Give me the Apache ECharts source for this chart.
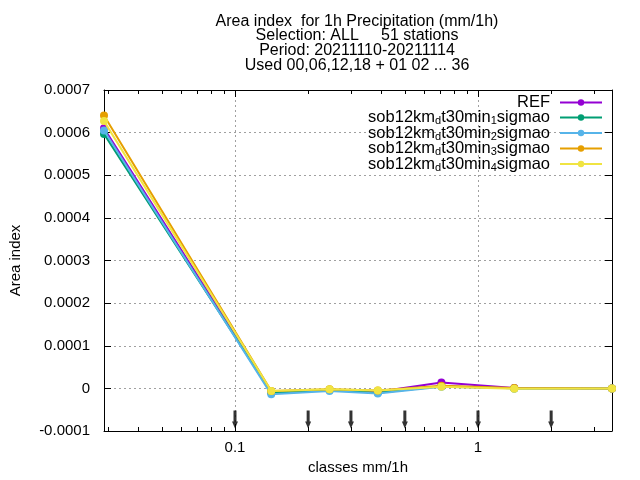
<!DOCTYPE html>
<html>
<head>
<meta charset="utf-8">
<script src="https://cdn.jsdelivr.net/npm/echarts@6/dist/echarts.min.js"></script>
<style>
  html, body { margin: 0; padding: 0; background: #fff; }
  #chart { width: 640px; height: 480px; }
</style>
</head>
<body>
<div id="chart"></div>
<script>
// class centres (mm/1h), log x axis
const classCentres = [0.0289, 0.141, 0.245, 0.387, 0.707, 1.41, 3.56];

// area index per experiment
const refValues    = [6.10e-4, -8e-6, -3e-6, -8e-6, 1.4e-5, 1e-6, 0];
const sigmao1      = [5.97e-4, -1.0e-5, -4e-6, -1.0e-5, 5e-6, 0, 0];
const sigmao2      = [6.05e-4, -1.4e-5, -6e-6, -1.2e-5, 4e-6, 0, 0];
const sigmao3      = [6.40e-4, -6e-6, -2e-6, -5e-6, 6e-6, 1e-6, 0];
const sigmao4      = [6.27e-4, -6e-6, -2e-6, -5e-6, 4e-6, -1e-6, 0];

// class thresholds shown as arrows under the curves
const thresholds = [0.1, 0.2, 0.3, 0.5, 1, 2];
const arrowLevel = -7.3e-5;

const seriesNames = ['REF', 'sob12km_d_t30min_1_sigmao', 'sob12km_d_t30min_2_sigmao',
  'sob12km_d_t30min_3_sigmao', 'sob12km_d_t30min_4_sigmao'];
const seriesValues = [refValues, sigmao1, sigmao2, sigmao3, sigmao4];
const colors = ['#9400d3', '#009e73', '#56b4e9', '#e69f00', '#f0e442'];

const xMajor = [0.1, 1];
const xMinor = [0.03, 0.04, 0.05, 0.06, 0.07, 0.08, 0.09,
  0.2, 0.3, 0.4, 0.5, 0.6, 0.7, 0.8, 0.9, 2, 3];

const font = 'Liberation Sans, Arial, sans-serif';

const legendLabel = (name) => {
  if (name === 'REF') return 'REF';
  const p = name.split('_');
  return p[0] + '{sub|' + p[1] + '}' + p[2] + '{sub|' + p[3] + '}' + p[4];
};

const xBase = {
  type: 'log',
  logBase: 10,
  min: classCentres[0],
  max: classCentres[classCentres.length - 1],
  axisLine: { show: false, onZero: false },
  splitLine: { show: false },
  axisLabel: { show: false },
  axisTick: { show: false }
};

const chart = echarts.init(document.getElementById('chart'));

chart.setOption({
  animation: false,
  textStyle: { fontFamily: font, color: '#000' },
  title: {
    text: 'Area index  for 1h Precipitation (mm/1h)\nSelection: ALL     51 stations\nPeriod: 20211110-20211114\nUsed 00,06,12,18 + 01 02 ... 36',
    left: 352,
    textAlign: 'center',
    top: 9,
    textStyle: { fontFamily: font, fontSize: 16, fontWeight: 'normal', color: '#000', lineHeight: 14.7 }
  },
  legend: {
    right: 32,
    top: 89,
    orient: 'vertical',
    align: 'right',
    itemWidth: 42,
    itemHeight: 8,
    itemGap: -2.5,
    data: seriesNames,
    formatter: legendLabel,
    textStyle: {
      fontFamily: font, fontSize: 16.5, color: '#000', lineHeight: 15, padding: [0, 5, 0, 0],
      rich: { sub: { fontFamily: font, fontSize: 11, padding: [7, 0, 0, 0], lineHeight: 9 } }
    }
  },
  grid: { left: 100, right: 28, top: 90, bottom: 49 },
  xAxis: [
    Object.assign({}, xBase, {
      position: 'bottom',
      name: 'classes mm/1h',
      nameLocation: 'middle',
      nameGap: 28,
      nameTextStyle: { fontFamily: font, fontSize: 15, color: '#000' },
      axisLine: { show: true, onZero: false, lineStyle: { color: '#000', width: 1 } },
      axisTick: { show: true, inside: true, length: 7, customValues: xMajor, lineStyle: { color: '#000' } },
      axisLabel: { show: true, customValues: xMajor, fontSize: 15, color: '#000', fontFamily: font, margin: 9,
        formatter: (v) => String(v) },
      splitLine: { show: true, lineStyle: { color: '#a0a0a0', type: [2, 3], width: 1 } }
    }),
    Object.assign({}, xBase, {
      position: 'bottom',
      axisTick: { show: true, inside: true, length: 4, customValues: xMinor, lineStyle: { color: '#000' } }
    }),
    Object.assign({}, xBase, {
      position: 'top',
      axisLine: { show: true, onZero: false, lineStyle: { color: '#000', width: 1 } },
      axisTick: { show: true, inside: true, length: 7, customValues: xMajor, lineStyle: { color: '#000' } }
    }),
    Object.assign({}, xBase, {
      position: 'top',
      axisTick: { show: true, inside: true, length: 4, customValues: xMinor, lineStyle: { color: '#000' } }
    })
  ],
  yAxis: [
    {
      type: 'value',
      min: -0.0001,
      max: 0.0007,
      interval: 0.0001,
      position: 'left',
      name: 'Area index',
      nameLocation: 'middle',
      nameGap: 81,
      nameTextStyle: { fontFamily: font, fontSize: 15, color: '#000' },
      axisLine: { show: true, onZero: false, lineStyle: { color: '#000', width: 1 } },
      axisTick: { show: true, inside: true, length: 7, lineStyle: { color: '#000' } },
      axisLabel: { fontSize: 15, color: '#000', fontFamily: font, margin: 14,
        formatter: (v) => (Math.abs(v) < 1e-12 ? '0' : v.toFixed(4)) },
      splitLine: { show: true, lineStyle: { color: '#a0a0a0', type: [2, 3], width: 1 } }
    },
    {
      type: 'value',
      min: -0.0001,
      max: 0.0007,
      interval: 0.0001,
      position: 'right',
      axisLine: { show: true, onZero: false, lineStyle: { color: '#000', width: 1 } },
      axisTick: { show: true, inside: true, length: 7, lineStyle: { color: '#000' } },
      axisLabel: { show: false },
      splitLine: { show: false }
    }
  ],
  series: seriesNames.map((name, i) => ({
    name: name,
    type: 'line',
    xAxisIndex: 0,
    yAxisIndex: 0,
    data: classCentres.map((x, j) => [x, seriesValues[i][j]]),
    color: colors[i],
    symbol: 'circle',
    symbolSize: 8,
    showAllSymbol: true,
    lineStyle: { width: 2, color: colors[i] },
    itemStyle: { color: colors[i] },
    z: 3 + i
  })).concat([{
    name: 'thresholds',
    type: 'scatter',
    xAxisIndex: 0,
    yAxisIndex: 0,
    data: thresholds.map((t) => [t, arrowLevel]),
    symbol: 'path://M1.5,0 L4.5,0 L4.5,11 L6,11 L3,18 L0,11 L1.5,11 Z',
    symbolSize: [6, 18],
    itemStyle: { color: '#000' },
    z: 10
  }])
});
</script>
</body>
</html>
